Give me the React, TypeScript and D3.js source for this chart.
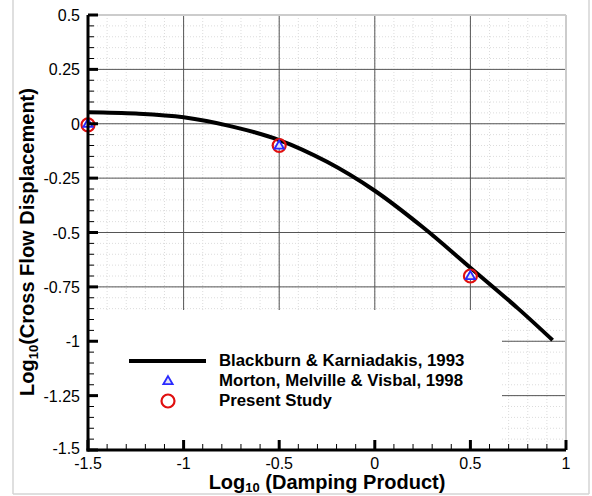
import React from 'react'
import * as d3 from 'd3'

// Blackburn & Karniadakis, 1993 curve (log10 damping product vs log10 displacement)
const curveX = [-1.5, -1.25, -1.0, -0.75, -0.5, -0.25, 0, 0.25, 0.5, 0.75, 0.93]
const curveY = [0.053, 0.047, 0.03, -0.012, -0.075, -0.175, -0.308, -0.475, -0.662, -0.85, -0.995]

// Morton, Melville & Visbal, 1998
const mortonX = [-1.5, -0.5, 0.5]
const mortonY = [0, -0.1, -0.7]

// Present study
const presentX = [-1.5, -0.5, 0.5]
const presentY = [-0.005, -0.1, -0.7]

const xTicks = [-1.5, -1, -0.5, 0, 0.5, 1]
const xTickLabels = ['-1.5', '-1', '-0.5', '0', '0.5', '1']
const yTicks = [0.5, 0.25, 0, -0.25, -0.5, -0.75, -1, -1.25, -1.5]
const yTickLabels = ['0.5', '0.25', '0', '-0.25', '-0.5', '-0.75', '-1', '-1.25', '-1.5']

const legendLabels = [
  'Blackburn & Karniadakis, 1993',
  'Morton, Melville & Visbal, 1998',
  'Present Study',
]

const font = '"Liberation Sans", Arial, Helvetica, sans-serif'

const App = () => {
  const width = 592
  const height = 496

  const x = d3.scaleLinear().domain([-1.5, 1]).range([88, 566])
  const y = d3.scaleLinear().domain([-1.5, 0.5]).range([450, 15])

  const minorX = d3.range(-1.5, 1.0001, 0.1).map(v => +v.toFixed(2))
  const minorY = d3.range(-1.5, 0.5001, 0.05).map(v => +v.toFixed(3))

  const line = d3.line<number>()
    .x((_, i) => x(curveX[i]))
    .y(d => y(d))
    .curve(d3.curveCatmullRom)

  const tri = d3.symbol().type(d3.symbolTriangle).size(38)()

  // legend box region (hides grid behind it)
  const lgX0 = 89, lgX1 = 502, lgY0 = 310, lgY1 = 448

  return (
    <svg width={width} height={height} style={{ position: 'absolute', left: 0, top: 0, background: '#fff' }}>
      {/* outer frame */}
      <line x1={13} y1={0} x2={13} y2={494} stroke="#d4d4d4" strokeWidth={1.5} />
      <line x1={13} y1={494} x2={589} y2={494} stroke="#d4d4d4" strokeWidth={1.5} />
      <line x1={589} y1={0} x2={589} y2={494} stroke="#d4d4d4" strokeWidth={1.5} />

      {/* minor dotted grid */}
      {minorX.map((v, i) => (
        <line key={'mx' + i} x1={x(v)} x2={x(v)} y1={y(0.5)} y2={y(-1.5)}
          stroke="#dcdcdc" strokeWidth={1} strokeDasharray="1,2" />
      ))}
      {minorY.map((v, i) => (
        <line key={'my' + i} x1={x(-1.5)} x2={x(1)} y1={y(v)} y2={y(v)}
          stroke="#dcdcdc" strokeWidth={1} strokeDasharray="1,2" />
      ))}

      {/* major grid */}
      {xTicks.slice(1, -1).map(v => (
        <line key={'gx' + v} x1={x(v)} x2={x(v)} y1={y(0.5)} y2={y(-1.5)} stroke="#555" strokeWidth={1} />
      ))}
      {yTicks.slice(1, -1).map(v => (
        <line key={'gy' + v} x1={x(-1.5)} x2={x(1)} y1={y(v)} y2={y(v)} stroke="#555" strokeWidth={1} />
      ))}

      {/* legend background */}
      <rect x={lgX0} y={lgY0} width={lgX1 - lgX0} height={lgY1 - lgY0} fill="#fff" />

      {/* top and right border */}
      <line x1={x(-1.5)} x2={x(1)} y1={y(0.5)} y2={y(0.5)} stroke="#ccc" strokeWidth={2} />
      <line x1={x(1)} x2={x(1)} y1={y(0.5)} y2={y(-1.5)} stroke="#ccc" strokeWidth={2} />

      {/* curve */}
      <path d={line(curveY) || ''} fill="none" stroke="#000" strokeWidth={4} />

      {/* markers */}
      {presentX.map((v, i) => (
        <circle key={'c' + i} cx={x(v)} cy={y(presentY[i])} r={6.5} fill="none" stroke="#e01010" strokeWidth={2.2} />
      ))}
      {mortonX.map((v, i) => (
        <path key={'t' + i} d={tri || ''} transform={`translate(${x(v)},${y(mortonY[i]) + 0.5})`}
          fill="#e4e4f4" stroke="#2a2aff" strokeWidth={1.8} />
      ))}

      {/* axes */}
      <line x1={x(-1.5)} x2={x(-1.5)} y1={y(0.5)} y2={y(-1.5) + 1.5} stroke="#000" strokeWidth={3} />
      <line x1={x(-1.5) - 1.5} x2={x(1)} y1={y(-1.5)} y2={y(-1.5)} stroke="#000" strokeWidth={3} />

      {/* minor ticks */}
      {minorX.map((v, i) => (
        <line key={'tmx' + i} x1={x(v)} x2={x(v)} y1={y(-1.5)} y2={y(-1.5) - 6} stroke="#000" strokeWidth={1} />
      ))}
      {minorY.map((v, i) => (
        <line key={'tmy' + i} x1={x(-1.5)} x2={x(-1.5) + 6} y1={y(v)} y2={y(v)} stroke="#000" strokeWidth={1} />
      ))}
      {/* major ticks */}
      {xTicks.map(v => (
        <line key={'tx' + v} x1={x(v)} x2={x(v)} y1={y(-1.5)} y2={y(-1.5) - 10} stroke="#000" strokeWidth={3} />
      ))}
      {yTicks.map(v => (
        <line key={'ty' + v} x1={x(-1.5)} x2={x(-1.5) + 10} y1={y(v)} y2={y(v)} stroke="#000" strokeWidth={3} />
      ))}

      {/* tick labels */}
      {xTicks.map((v, i) => (
        <text key={'lx' + v} x={x(v)} y={468.5} textAnchor="middle" fontFamily={font} fontSize={16}>
          {xTickLabels[i]}
        </text>
      ))}
      {yTicks.map((v, i) => (
        <text key={'ly' + v} x={80} y={y(v) + (i === yTicks.length - 1 ? 4 : 6)} textAnchor="end" fontFamily={font} fontSize={16}>
          {yTickLabels[i]}
        </text>
      ))}

      {/* axis titles */}
      <text x={327} y={489} textAnchor="middle" fontFamily={font} fontSize={20} fontWeight="bold">
        Log<tspan fontSize={13} dy={3}>10</tspan><tspan dy={-3}> (Damping Product)</tspan>
      </text>
      <text transform="translate(34,242) rotate(-90)" textAnchor="middle" fontFamily={font} fontSize={20} fontWeight="bold">
        Log<tspan fontSize={13} dy={3.5}>10</tspan><tspan dy={-3.5}>(Cross Flow Displacement)</tspan>
      </text>

      {/* legend */}
      <line x1={129} x2={206} y1={361} y2={361} stroke="#000" strokeWidth={4} />
      <path d={tri || ''} transform="translate(168,381.5)" fill="#e4e4f4" stroke="#2a2aff" strokeWidth={1.8} />
      <circle cx={168} cy={401} r={6.5} fill="none" stroke="#e01010" strokeWidth={2.2} />
      {legendLabels.map((t, i) => (
        <text key={t} x={219} y={366 + i * 20} fontFamily={font} fontSize={16.8} fontWeight="bold">{t}</text>
      ))}
    </svg>
  )
}

export default App
